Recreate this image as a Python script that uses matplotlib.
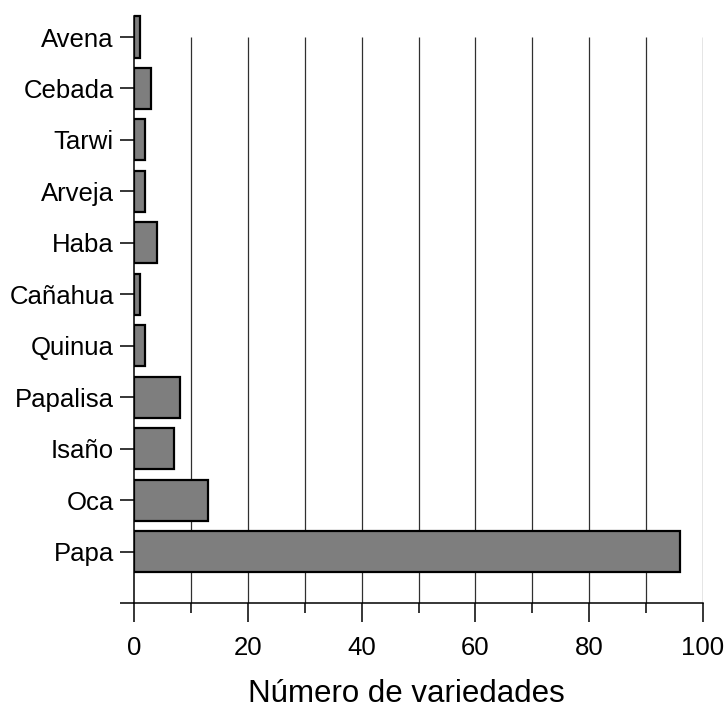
import matplotlib
matplotlib.use("Agg")
import matplotlib.pyplot as plt

categories = ["Papa", "Oca", "Isaño", "Papalisa", "Quinua", "Cañahua",
              "Haba", "Arveja", "Tarwi", "Cebada", "Avena"]
values = [96, 13, 7, 8, 2, 1, 4, 2, 2, 3, 1]
xticks = [0, 20, 40, 60, 80, 100]
xlabel = "Número de variedades"

plt.rcParams["font.family"] = ["Liberation Sans", "DejaVu Sans"]

fig = plt.figure(figsize=(7.25, 7.09), dpi=100)
ax = fig.add_axes([134 / 725, 1 - 603 / 709, 569 / 725, 593 / 709])

pos = list(range(len(categories)))
top = len(categories) - 1

# vertical grid, every 10 units, spanning the category band
for gx in range(10, 101, 10):
    ax.plot([gx, gx], [-1, top], color="#303030", lw=0.9, zorder=1,
            solid_capstyle="butt")

ax.barh(pos, values, height=0.8, color="#7e7e7e", edgecolor="black",
        linewidth=1.6, zorder=3)

ax.set_xlim(0, 100)
ax.set_ylim(-1, top + 27 / 51.45)

for s in ("top", "right"):
    ax.spines[s].set_visible(False)
ax.spines["left"].set_bounds(-1, top + 0.41)
ax.spines["left"].set_linewidth(1.1)
ax.spines["bottom"].set_linewidth(1.1)

ax.set_yticks([-1] + pos)
ax.set_yticklabels([""] + categories, fontsize=18.5)
ax.tick_params(axis="y", length=10, width=1.1, pad=4.5)

ax.set_xticks(xticks)
ax.set_xticklabels([str(t) for t in xticks], fontsize=18.5)
ax.set_xticks(range(10, 100, 20), minor=True)
ax.tick_params(axis="x", which="major", length=14, width=1.1, pad=10)
ax.tick_params(axis="x", which="minor", length=7, width=1.1)

fig.text(406 / 725, 1 - 702 / 709, xlabel, fontsize=22.5,
         ha="center", va="baseline")

fig.savefig("out.png", dpi=100)
